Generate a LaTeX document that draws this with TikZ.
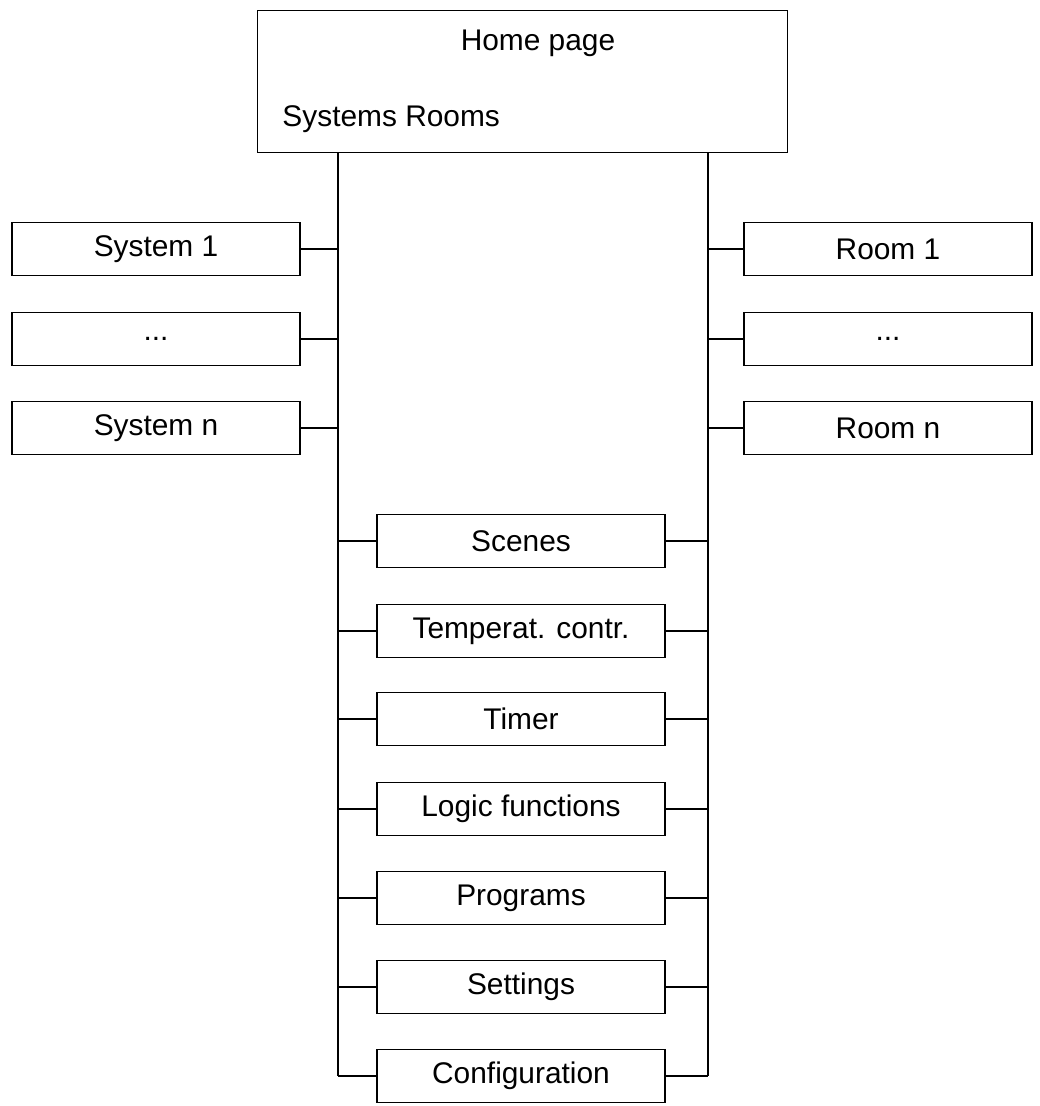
\documentclass[tikz,border=0pt]{standalone}
\usepackage{fontspec}
\setmainfont{Liberation Sans}
\usetikzlibrary{positioning}
\tikzset{box/.style={draw, rectangle, minimum width=5.76cm, minimum height=1.06cm, inner sep=0pt, font=\fontsize{17}{20}\selectfont}}
\newcommand{\mydots}{...}
\begin{document}
\begin{tikzpicture}[x=0.02cm, y=-0.02cm, line width=0.7pt]
\useasboundingbox (0,0) rectangle (1040,1106);

% home page
\node [draw, rectangle, minimum width=10.6cm, minimum height=2.84cm, anchor=north west] (home) at (257,10) {};
\node [font=\fontsize{17}{20}\selectfont] (title) at (538,43) {Home page};
\node [font=\fontsize{17}{20}\selectfont, anchor=west] (sysrooms) at (276,119) {Systems Rooms};

\coordinate (ltop) at (338,152);
\coordinate (lbot) at (338,1076);
\coordinate (rtop) at (708,152);
\coordinate (rbot) at (708,1076);
\draw (ltop) -- (lbot);
\draw (rtop) -- (rbot);

% systems and rooms
\foreach \name/\y/\ltext/\rtext in {s1/249/System 1/Room 1, s2/339/\mydots/\mydots, s3/428/System n/Room n} {
  \node [box] (\name l) at (156,\y) {\ltext};
  \node [box] (\name r) at (888,\y) {\rtext};
  \draw (\name l.east) -- (338,\y);
  \draw (\name r.west) -- (708,\y);
}

% functions
\foreach \name/\y/\ftext in {sc/541/Scenes, te/631/Temperat. contr., ti/719/Timer, lo/809/Logic functions, pr/898/Programs, se/987/Settings, co/1076/Configuration} {
  \node [box] (\name) at (521,\y) {\ftext};
  \draw (338,\y) -- (\name.west);
  \draw (\name.east) -- (708,\y);
}
\end{tikzpicture}
\end{document}
